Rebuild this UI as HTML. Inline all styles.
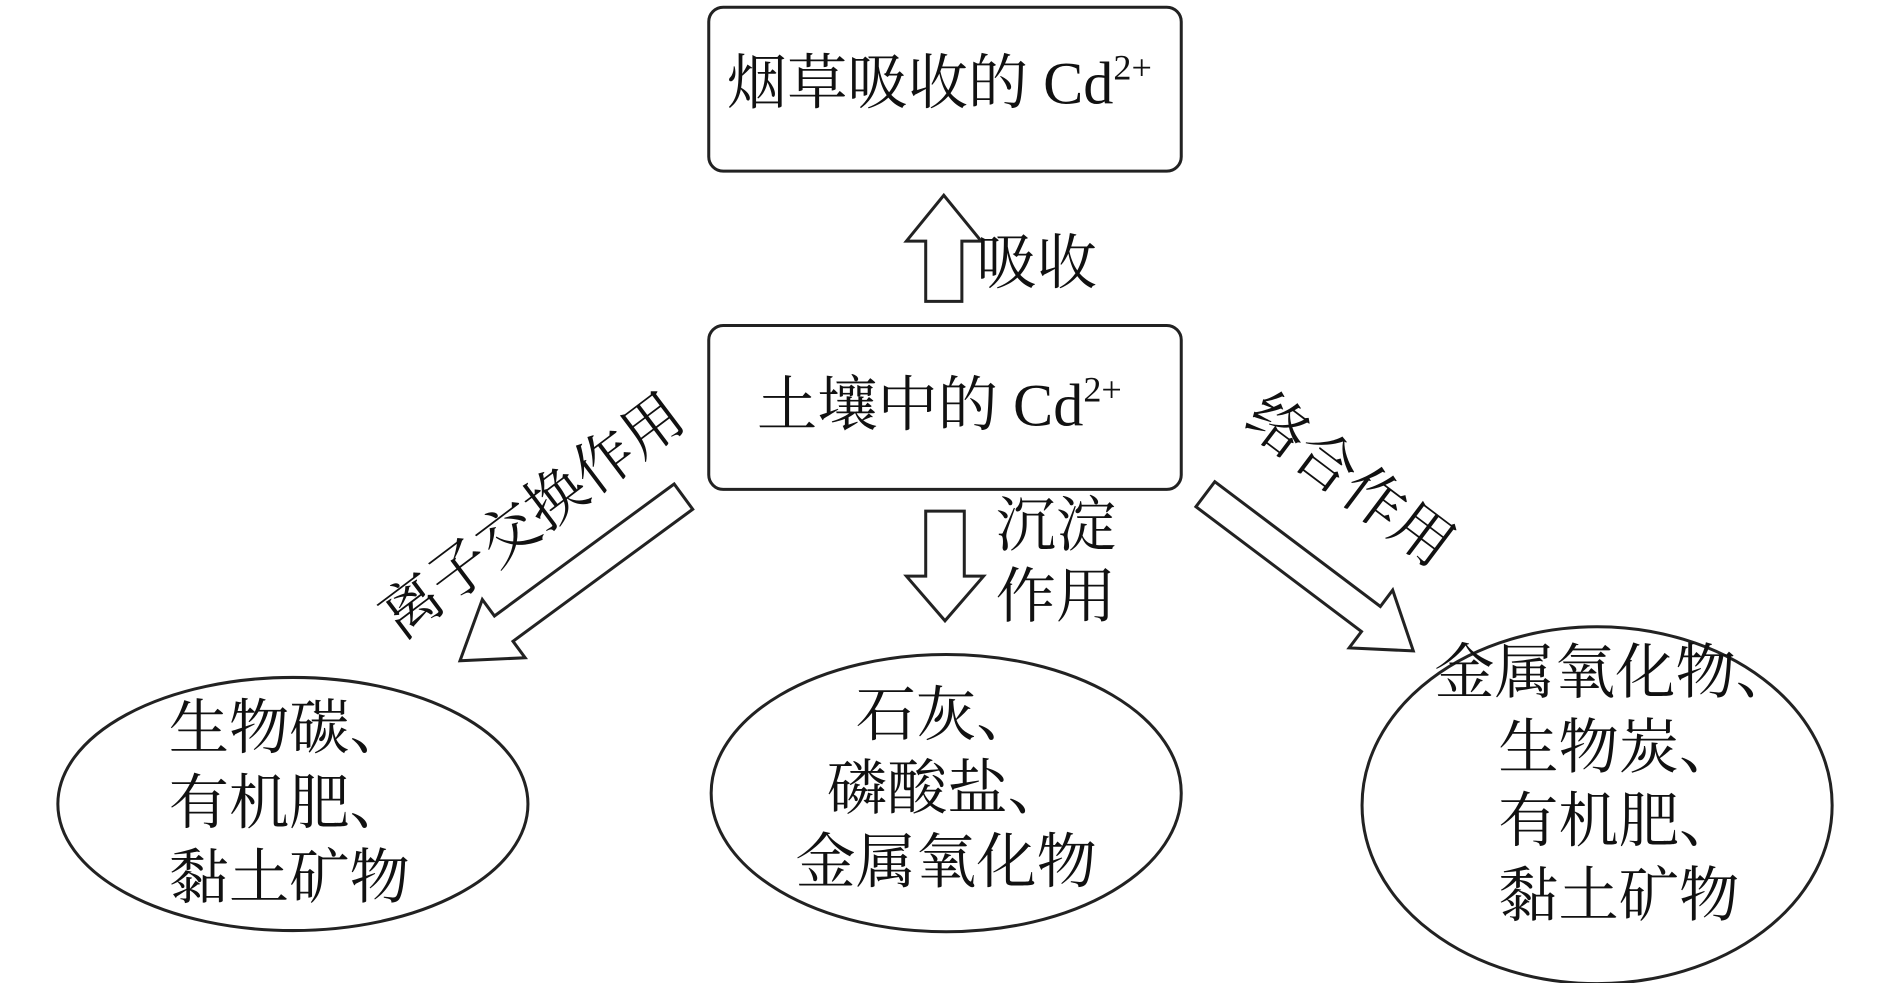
<!DOCTYPE html>
<html><head><meta charset="utf-8"><style>
html,body{margin:0;padding:0;background:#fff;}
svg{display:block;}
text{font-family:"Liberation Serif","Noto Serif CJK SC",serif;font-size:50px;fill:#111;}
</style></head><body>
<svg width="1890" height="983" viewBox="0 0 1568 815.5" preserveAspectRatio="none" xmlns="http://www.w3.org/2000/svg">
<g fill="none" stroke="#222" stroke-width="2.5">
<rect x="588" y="6" width="392" height="136" rx="12"/>
<rect x="588" y="270" width="392" height="136" rx="12"/>
<polygon points="768,250 798,250 798,200 814,200 783,162 752,200 768,200"/>
<polygon points="768,424 800,424 800,478 816,478 784,515 752,478 768,478"/>
<g transform="translate(567,412) rotate(143.7)">
<polygon points="0,-13 185,-13 185,-30 230,0 185,30 185,13 0,13"/>
</g>
<g transform="translate(1000,410) rotate(37)">
<polygon points="0,-13 172,-13 172,-30 216,0 172,30 172,13 0,13"/>
</g>
<ellipse cx="243" cy="667" rx="195" ry="105"/>
<ellipse cx="785" cy="658" rx="195" ry="115"/>
<ellipse cx="1325" cy="668" rx="195" ry="148"/>
</g>
<text x="603" y="86">烟草吸收的 Cd<tspan font-size="30" dy="-20">2+</tspan></text>
<text x="810" y="235">吸收</text>
<text x="628" y="353">土壤中的 Cd<tspan font-size="30" dy="-20">2+</tspan></text>
<text x="826" y="453">沉淀</text>
<text x="826" y="512">作用</text>
<text transform="translate(332,532) rotate(-37)">离子交换作用</text>
<text transform="translate(1030,352) rotate(37)">络合作用</text>
<text x="140" y="621">生物碳、</text>
<text x="140" y="683">有机肥、</text>
<text x="140" y="745">黏土矿物</text>
<text x="710" y="610">石灰、</text>
<text x="686" y="671">磷酸盐、</text>
<text x="660" y="732">金属氧化物</text>
<text x="1190" y="575">金属氧化物、</text>
<text x="1243" y="637">生物炭、</text>
<text x="1243" y="698">有机肥、</text>
<text x="1243" y="760">黏土矿物</text>
</svg>
</body></html>
